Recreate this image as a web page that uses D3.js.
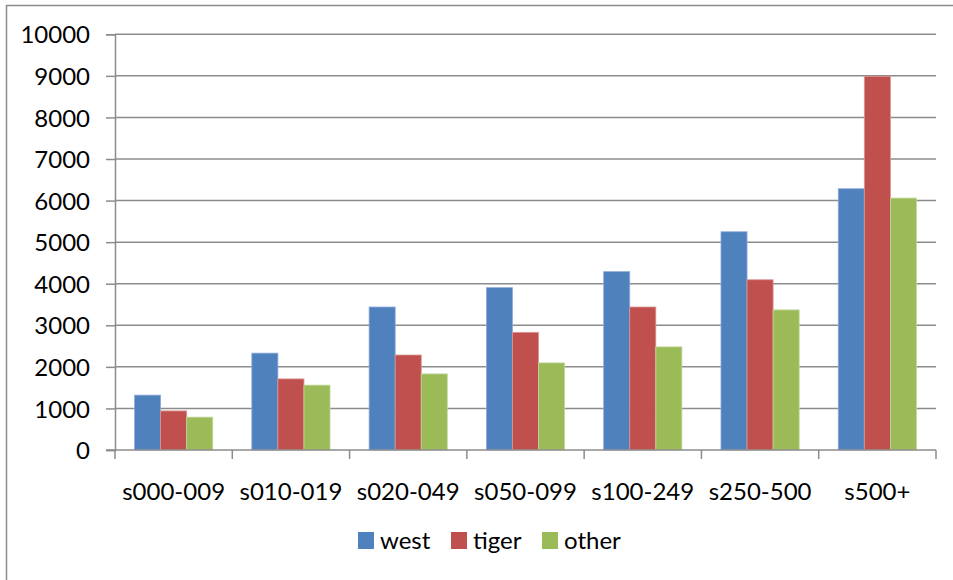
<!DOCTYPE html>
<html>
<head>
<meta charset="utf-8">
<script src="https://cdn.jsdelivr.net/npm/d3@7"></script>
<style>
  html, body { margin: 0; padding: 0; background: #fff; }
  svg { display: block; }
  text { font-family: Lato, "Open Sans", sans-serif; fill: #000; }
</style>
</head>
<body>
<svg id="chart" width="953" height="580"></svg>
<script>
// Size classes along the x axis
const categories = ["s000-009", "s010-019", "s020-049", "s050-099", "s100-249", "s250-500", "s500+"];
// One array per series, same order as categories
const west  = [1320, 2330, 3440, 3905, 4290, 5250, 6285];
const tiger = [940, 1710, 2285, 2830, 3440, 4095, 8990];
const other = [790, 1560, 1830, 2095, 2480, 3370, 6060];
const seriesNames = ["west", "tiger", "other"];
const seriesColors = ["#4F81BD", "#C0504D", "#9BBB59"];
const seriesEdge = ["#8EAADB", "#D99694", "#C3D69B"];
const yTicks = [0, 1000, 2000, 3000, 4000, 5000, 6000, 7000, 8000, 9000, 10000];

const seriesValues = [west, tiger, other];
const fontSize = "24px";

const svg = d3.select("#chart");
const plot = { left: 115, right: 936, top: 34.3, bottom: 450 };

// outer chart frame (runs off the right and bottom edges)
svg.append("rect")
  .attr("x", 6.5).attr("y", 5.5)
  .attr("width", 1000).attr("height", 1000)
  .attr("fill", "none").attr("stroke", "#8c8c8c").attr("stroke-width", 1.5);

const x = d3.scaleBand().domain(categories).range([plot.left, plot.right]).padding(0);
const gapFrac = 0.5 * 1.5 / 4.5; // gap width 150% of one bar, split either side
const xInner = d3.scaleBand().domain(seriesNames)
  .range([x.bandwidth() * gapFrac, x.bandwidth() * (1 - gapFrac)]).padding(0);
const y = d3.scaleLinear().domain([0, 10000]).range([plot.bottom, plot.top]);

// horizontal gridlines
svg.append("g").selectAll("line").data(yTicks.filter(d => d > 0)).join("line")
  .attr("x1", plot.left).attr("x2", plot.right)
  .attr("y1", d => y(d)).attr("y2", d => y(d))
  .attr("stroke", "#8c8c8c").attr("stroke-width", 1.5);

// y axis
const yAxis = svg.append("g").attr("transform", `translate(${plot.left},0)`)
  .call(d3.axisLeft(y).tickValues(yTicks).tickSize(9).tickPadding(16).tickFormat(d3.format("d")));
yAxis.select(".domain").attr("stroke", "#8c8c8c").attr("stroke-width", 1.5);
yAxis.selectAll(".tick line").attr("stroke", "#8c8c8c").attr("stroke-width", 1.5);
yAxis.selectAll(".tick text").style("font-size", fontSize).attr("dy", "0.36em");

// bars
const groups = svg.append("g").selectAll("g").data(categories).join("g")
  .attr("transform", d => `translate(${x(d)},0)`);
groups.selectAll("rect")
  .data((c, i) => seriesNames.map((s, k) => ({ s, k, v: seriesValues[k][i] })))
  .join("rect")
  .attr("x", d => xInner(d.s))
  .attr("width", xInner.bandwidth())
  .attr("y", d => y(d.v))
  .attr("height", d => y(0) - y(d.v))
  .attr("fill", d => seriesColors[d.k])
  .attr("stroke", d => seriesEdge[d.k])
  .attr("stroke-width", 0.8);

// x axis
const xAxis = svg.append("g").attr("transform", `translate(0,${plot.bottom})`)
  .call(d3.axisBottom(x).tickSize(0).tickPadding(33));
xAxis.select(".domain").remove();
xAxis.selectAll(".tick text").style("font-size", fontSize);
svg.append("line")
  .attr("x1", plot.left - 9).attr("x2", plot.right)
  .attr("y1", plot.bottom).attr("y2", plot.bottom)
  .attr("stroke", "#8c8c8c").attr("stroke-width", 1.5);
// category separator ticks
const sepTicks = categories.map(c => x(c)).concat([plot.right]);
svg.append("g").selectAll("line").data(sepTicks).join("line")
  .attr("x1", d => d).attr("x2", d => d)
  .attr("y1", plot.bottom).attr("y2", plot.bottom + 9)
  .attr("stroke", "#8c8c8c").attr("stroke-width", 1.5);

// legend
const legendX = [358, 451, 542];
const legend = svg.append("g").selectAll("g").data(seriesNames).join("g")
  .attr("transform", (d, i) => `translate(${legendX[i]},532)`);
legend.append("rect").attr("width", 16).attr("height", 17)
  .attr("fill", (d, i) => seriesColors[i]);
legend.append("text").attr("x", 22).attr("y", 17)
  .style("font-size", fontSize).text(d => d);
</script>
</body>
</html>
